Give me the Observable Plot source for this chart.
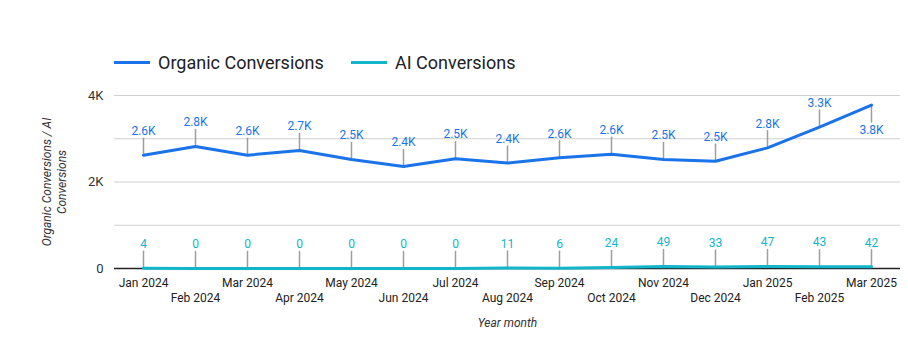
<!DOCTYPE html>
<html>
<head>
<meta charset="utf-8">
<script src="https://cdn.jsdelivr.net/npm/d3@7"></script>
<script src="https://cdn.jsdelivr.net/npm/@observablehq/plot@0.6"></script>
<style>
  html, body { margin: 0; padding: 0; background: #fff; }
  body { width: 908px; height: 358px; overflow: hidden; font-family: Roboto, "Noto Sans", sans-serif; }
  #legend { position: relative; height: 80px; width: 908px; }
  .item { position: absolute; top: 50px; height: 24px; display: flex; align-items: center; font-size: 18px; color: #202124; white-space: nowrap; }
  .swatch { width: 36px; height: 3px; margin-right: 8px; }
  #chart svg { display: block; }
</style>
</head>
<body>
<div id="legend"></div>
<div id="chart"></div>
<script>
const months = ["Jan 2024","Feb 2024","Mar 2024","Apr 2024","May 2024","Jun 2024","Jul 2024","Aug 2024","Sep 2024","Oct 2024","Nov 2024","Dec 2024","Jan 2025","Feb 2025","Mar 2025"];
const organic = [2620, 2820, 2620, 2730, 2520, 2360, 2540, 2440, 2560, 2640, 2520, 2480, 2790, 3270, 3780];
const ai = [4, 0, 0, 0, 0, 0, 0, 11, 6, 24, 49, 33, 47, 43, 42];
const seriesNames = ["Organic Conversions", "AI Conversions"];
const seriesColors = ["#1a73e8", "#12b5cb"];
const yTicks = [0, 2000, 4000];
const gridTicks = [1000, 2000, 3000, 4000];
const yTitle = "Organic Conversions / AI\nConversions";
const xTitle = "Year month";

// Legend (HTML, above the SVG)
const legend = document.getElementById("legend");
const legendLeft = [114, 351];
seriesNames.forEach((name, i) => {
  const item = document.createElement("div");
  item.className = "item";
  item.style.left = legendLeft[i] + "px";
  item.innerHTML = `<span class="swatch" style="background:${seriesColors[i]}"></span><span>${name}</span>`;
  legend.appendChild(item);
});

const rows = months.map((m, i) => ({month: m, organic: organic[i], ai: ai[i], i}));
const last = months.length - 1;
const kfmt = v => v === 0 ? "0" : (v / 1000).toFixed(v % 1000 === 0 ? 0 : 1) + "K";
const leader = {draw(context, l) { context.moveTo(0, 0); context.lineTo(0, -l); }};
const oddRow = months.filter((m, i) => i % 2 === 0);
const evenRow = months.filter((m, i) => i % 2 === 1);

const chart = Plot.plot({
  width: 908,
  height: 278,
  marginLeft: 114,
  marginRight: 8,
  marginTop: 15,
  marginBottom: 90,
  style: {fontFamily: "Roboto, sans-serif", fontSize: "12px", background: "#fff"},
  x: {type: "point", domain: months, padding: 0.52, axis: null},
  y: {domain: [0, 4000], axis: null},
  marks: [
    Plot.ruleY(gridTicks, {stroke: "#d0d0d0", strokeWidth: 1}),
    Plot.ruleY([0], {stroke: "#222", strokeWidth: 1.5}),
    // leader lines
    Plot.vector(rows.filter(d => d.i !== last), {x: "month", y: "organic", length: 17, anchor: "start", shape: leader, stroke: "#9e9e9e", strokeWidth: 1.5}),
    Plot.vector(rows.filter(d => d.i === last), {x: "month", y: "organic", length: 17, rotate: 180, anchor: "start", shape: leader, stroke: "#9e9e9e", strokeWidth: 1.5}),
    Plot.vector(rows, {x: "month", y: "ai", length: 17, anchor: "start", shape: leader, stroke: "#9e9e9e", strokeWidth: 1.5}),
    Plot.line(rows, {x: "month", y: "ai", stroke: seriesColors[1], strokeWidth: 3}),
    Plot.line(rows, {x: "month", y: "organic", stroke: seriesColors[0], strokeWidth: 3}),
    // data labels
    Plot.text(rows.filter(d => d.i !== last), {x: "month", y: "organic", text: d => kfmt(d.organic), dy: -24, fill: seriesColors[0], fontSize: 12, lineAnchor: "middle"}),
    Plot.text(rows.filter(d => d.i === last), {x: "month", y: "organic", text: d => kfmt(d.organic), dy: 25, fill: seriesColors[0], fontSize: 12, lineAnchor: "middle"}),
    Plot.text(rows, {x: "month", y: "ai", text: d => String(d.ai), dy: -24, fill: seriesColors[1], fontSize: 12, lineAnchor: "middle"}),
    // y axis
    Plot.axisY(yTicks, {tickSize: 0, tickPadding: 11, tickFormat: kfmt, fontSize: 13, fill: "#333", label: null}),
    Plot.text([yTitle], {frameAnchor: "left", dx: -61, rotate: -90, fontSize: 12, fontStyle: "italic", lineHeight: 1.3, fill: "#333", textAnchor: "middle", lineAnchor: "middle"}),
    // x axis (staggered)
    Plot.text(oddRow, {x: d => d, frameAnchor: "bottom", dy: 15, fontSize: 12, fill: "#222", lineAnchor: "middle"}),
    Plot.text(evenRow, {x: d => d, frameAnchor: "bottom", dy: 30, fontSize: 12, fill: "#222", lineAnchor: "middle"}),
    Plot.text([xTitle], {frameAnchor: "bottom", dy: 55, fontSize: 12, fontStyle: "italic", fill: "#333", lineAnchor: "middle"})
  ]
});
document.getElementById("chart").appendChild(chart);
</script>
</body>
</html>
